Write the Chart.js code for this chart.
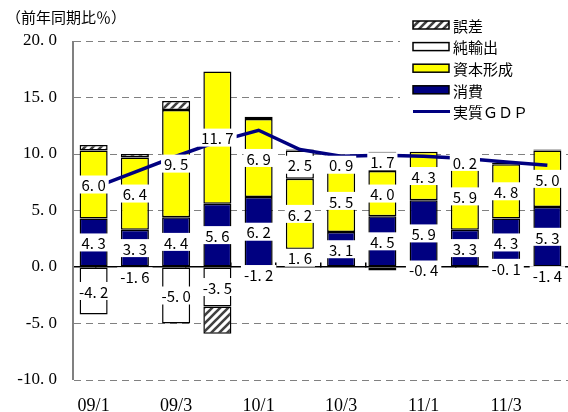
<!DOCTYPE html>
<html><head><meta charset="utf-8">
<script src="https://cdn.jsdelivr.net/npm/chart.js@4/dist/chart.umd.min.js"></script>
<style>html,body{margin:0;padding:0;background:#fff;}#wrap{width:568px;height:412px;}</style>
</head><body><div id="wrap"><canvas id="c" width="568" height="412"></canvas></div>
<script>
const categories = ['09/1','09/2','09/3','09/4','10/1','10/2','10/3','10/4','11/1','11/2','11/3','11/4'];
const xTickLabels = ['09/1','','09/3','','10/1','','10/3','','11/1','','11/3',''];
const consumption = [4.3, 3.3, 4.4, 5.6, 6.2, 1.6, 3.1, 4.5, 5.9, 3.3, 4.3, 5.3];
const capitalFormation = [6.0, 6.4, 9.5, 11.7, 6.9, 6.2, 5.5, 4.0, 4.3, 5.9, 4.8, 5.0];
const netExports = [-4.2, -1.6, -5.0, -3.5, -1.2, 2.5, 0.9, 1.7, -0.4, 0.2, -0.1, -1.4];
const errorTerm = [0.5, 0.3, 0.8, -2.4, 0.2, 0.1, 0.2, -0.3, 0.0, 0.1, 0.1, 0.1];
const realGDP = [7.0, 8.4, 9.8, 11.1, 12.1, 10.4, 9.8, 9.9, 9.8, 9.6, 9.3, 9.0];
const yTicks = [-10, -5, 0, 5, 10, 15, 20];
const labeledSeries = ['消費', '資本形成', '純輸出'];
const legendOrder = ['誤差', '純輸出', '資本形成', '消費', '実質ＧＤＰ'];

const canvas = document.getElementById('c');
const mainCtx = canvas.getContext('2d');
function makeHatch() {
  const c = document.createElement('canvas');
  c.width = 8; c.height = 8;
  const g = c.getContext('2d');
  g.fillStyle = '#fff'; g.fillRect(0, 0, 8, 8);
  g.strokeStyle = '#404040'; g.lineWidth = 2.6;
  g.beginPath();
  g.moveTo(-2, 10); g.lineTo(10, -2);
  g.moveTo(-2, 2); g.lineTo(2, -2);
  g.moveTo(6, 10); g.lineTo(10, 6);
  g.stroke();
  return mainCtx.createPattern(c, 'repeat');
}
const hatch = makeHatch();

function fmt(v) { return v.toFixed(1).replace('.', '. '); }

const axisLine = {
  id: 'axisLine',
  beforeDatasetsDraw(chart) {
    const ctx = chart.ctx, a = chart.chartArea;
    ctx.save();
    ctx.strokeStyle = '#808080';
    ctx.lineWidth = 2;
    ctx.beginPath();
    ctx.moveTo(a.left, a.top);
    ctx.lineTo(a.left, a.bottom);
    ctx.stroke();
    ctx.restore();
  }
};

const segLabels = {
  id: 'segLabels',
  afterDatasetsDraw(chart) {
    const ctx = chart.ctx;
    ctx.save();
    ctx.font = '15px "Noto Sans CJK JP", sans-serif';
    ctx.textAlign = 'center';
    ctx.textBaseline = 'middle';
    chart.data.datasets.forEach((ds, di) => {
      if (!labeledSeries.includes(ds.label)) return;
      const meta = chart.getDatasetMeta(di);
      meta.data.forEach((el, i) => {
        const v = ds.data[i];
        const p = el.getProps(['x', 'y', 'base'], true);
        const cy = (p.y + p.base) / 2;
        const t = fmt(v);
        const w = ctx.measureText(t).width + 6;
        ctx.fillStyle = '#fff';
        ctx.fillRect(p.x - w / 2, cy - 9, w, 18);
        ctx.fillStyle = '#000';
        ctx.fillText(t, p.x, cy + 1);
      });
    });
    ctx.restore();
  }
};

const customLegend = {
  id: 'customLegend',
  afterDraw(chart) {
    const ctx = chart.ctx;
    ctx.save();
    ctx.fillStyle = '#fff';
    ctx.fillRect(400, 12, 168, 110);
    ctx.font = '15px "Noto Sans CJK JP", sans-serif';
    ctx.textBaseline = 'middle';
    ctx.textAlign = 'left';
    legendOrder.forEach((name, k) => {
      const ds = chart.data.datasets.find(d => d.label === name);
      const cy = 25 + k * 21.6;
      if (ds.type === 'line') {
        ctx.strokeStyle = ds.borderColor;
        ctx.lineWidth = 3;
        ctx.beginPath(); ctx.moveTo(413, cy); ctx.lineTo(450, cy); ctx.stroke();
      } else {
        ctx.fillStyle = ds.backgroundColor;
        ctx.fillRect(413, cy - 4, 36, 8);
        ctx.strokeStyle = '#000'; ctx.lineWidth = 1.5;
        ctx.strokeRect(413, cy - 4, 36, 8);
      }
      ctx.fillStyle = '#000';
      ctx.fillText(name, 453, cy + 1);
    });
    ctx.font = '15px "Noto Sans CJK JP", sans-serif';
    ctx.fillText('（前年同期比％）', 6, 17);
    ctx.restore();
  }
};

const barCommon = {
  type: 'bar',
  borderColor: '#000',
  borderWidth: 1.5,
  borderSkipped: false,
  barPercentage: 0.68,
  categoryPercentage: 1.0,
  xAxisID: 'x',
  yAxisID: 'y'
};

new Chart(canvas, {
  data: {
    labels: categories,
    datasets: [
      { type: 'line', label: '実質ＧＤＰ', data: realGDP, borderColor: '#000080', backgroundColor: '#000080',
        borderWidth: 3.5, pointRadius: 0, tension: 0, fill: false, stack: 'gdp', xAxisID: 'x', yAxisID: 'y' },
      Object.assign({}, barCommon, { label: '消費', data: consumption, backgroundColor: '#000080', stack: 'demand' }),
      Object.assign({}, barCommon, { label: '資本形成', data: capitalFormation, backgroundColor: '#ffff00', stack: 'demand' }),
      Object.assign({}, barCommon, { label: '純輸出', data: netExports, backgroundColor: '#ffffff', stack: 'demand' }),
      Object.assign({}, barCommon, { label: '誤差', data: errorTerm, backgroundColor: hatch, stack: 'demand' })
    ]
  },
  options: {
    responsive: false,
    devicePixelRatio: 1,
    animation: false,
    layout: { padding: { top: 41, right: 0, bottom: 0, left: 0 } },
    plugins: { legend: { display: false }, tooltip: { enabled: false }, title: { display: false } },
    scales: {
      x: {
        type: 'category',
        position: 'bottom',
        stacked: true,
        grid: { display: false },
        border: { display: false },
        ticks: {
          autoSkip: false, maxRotation: 0, padding: 9,
          color: '#000',
          font: { family: '"Liberation Serif", "Noto Sans CJK JP", serif', size: 18, lineHeight: 1 },
          callback: (v, i) => xTickLabels[i]
        },
        afterFit: s => { s.height = 32; }
      },
      x2: {
        type: 'category',
        position: { y: 0 },
        labels: categories,
        grid: { display: true, drawOnChartArea: false, drawTicks: true, tickLength: -5, offset: true, color: '#000', lineWidth: 1.5 },
        border: { display: true, color: '#000', width: 1.5 },
        ticks: { display: false }
      },
      y: {
        type: 'linear',
        stacked: true,
        min: -10, max: 20,
        afterBuildTicks: s => { s.ticks = yTicks.map(v => ({ value: v })); },
        ticks: {
          padding: 16,
          color: '#000',
          font: { family: '"Liberation Serif", "Noto Sans CJK JP", serif', size: 17 },
          callback: v => fmt(v)
        },
        grid: {
          drawTicks: false,
          color: c => (c.tick && c.tick.value === 0) ? 'rgba(0,0,0,0)' : '#808080',
          lineWidth: 1
        },
        border: { display: true, color: 'rgba(0,0,0,0)', width: 1, dash: [7, 5] },
        afterFit: s => { s.width = 73; }
      }
    }
  },
  plugins: [axisLine, segLabels, customLegend]
});
</script></body></html>
